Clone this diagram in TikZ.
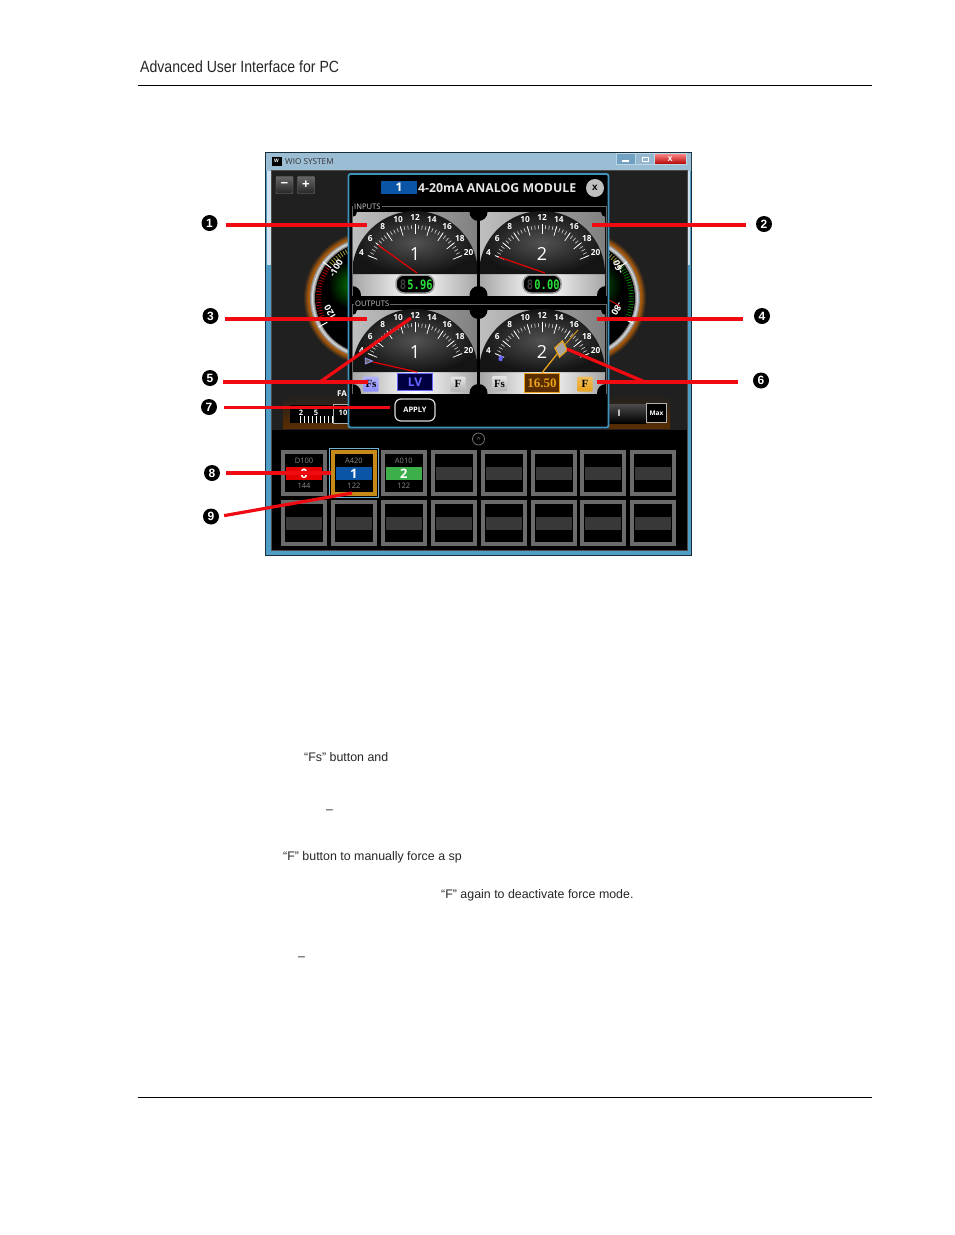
\documentclass[tikz,border=0pt]{standalone}
\usepackage{fontspec}
\usepackage{xcolor}
\setmainfont{Liberation Sans}
\newfontfamily\uifont{Open Sans}
\newfontfamily\monofont{DejaVu Sans Mono}
\newfontfamily\numfont{Liberation Serif}
\usetikzlibrary{positioning, arrows, shapes.geometric, calc}
\definecolor{winblue}{HTML}{4F9CC4}
\definecolor{winpale}{HTML}{CFE2EE}
\definecolor{titleblue}{HTML}{4F88B0}
\definecolor{panelblue}{HTML}{3F93BD}
\definecolor{callred}{HTML}{F00A12}
\definecolor{darkbg}{HTML}{202020}
\definecolor{ledgreen}{HTML}{2BE03A}
\definecolor{forceorange}{HTML}{E8A21C}
\definecolor{modblue}{HTML}{0B55A6}
\definecolor{modgreen}{HTML}{3DAF4A}
\newcommand{\fsz}[1]{\fontsize{#1}{#1}\selectfont}
\tikzset{
    callnum/.style={circle, fill=black, text=white, inner sep=0pt, minimum size=16pt, font=\bfseries\fsz{12}},
    callout/.style={draw=callred, line width=3.2pt, shorten <=#1},
    callout/.default=0pt,
    pagetext/.style={anchor=base west, inner sep=0pt, text=black!85, font=\fsz{12.4}},
    ticklabel/.style={text=white, inner sep=0pt, font=\uifont\bfseries\fsz{8.3}},
    slotbox/.style={draw=black!58, fill=black, line width=4pt, minimum size=42pt, inner sep=0pt},
    slotstrip/.style={fill=black!78, minimum width=36pt, minimum height=13pt, inner sep=0pt, text=white, font=\uifont\bfseries\fsz{13}},
    slottext/.style={text=black!45, inner sep=0pt, font=\uifont\fsz{7.5}},
    btnbox/.style={rounded corners=1pt, minimum width=15pt, minimum height=15pt, inner sep=0pt, text=black, font=\numfont\bfseries\fsz{11}, top color=white!90!black, bottom color=black!30},
    ledpill/.style={draw=black!40, fill=black, line width=1.5pt, rounded corners=8pt, minimum width=38pt, minimum height=18pt, inner sep=0pt},
    sidelabel/.style={text=white, inner sep=0pt, font=\uifont\bfseries\fsz{9}},
    needle/.style={draw=red!90!black, line width=1.2pt},
}
% one dial with its scale, #1 name, #2 and #3 centre, #4 number
\newcommand{\dialgauge}[4]{
    \shade[left color=black!25, right color=black!50] (#2-63,#3-63) rectangle (#2+63,#3);
    \shade[left color=black!35, right color=black!35, middle color=white] (#2-63,#3-1) rectangle (#2+63,#3+20);
    \begin{scope}[shift={(#2,#3)}]
        \shade[inner color=black!68, outer color=black!92] (-63,-1) arc[start angle=180, end angle=0, radius=63pt] -- cycle;
        \foreach \v in {4,4.5,...,20}{
            \pgfmathsetmacro{\a}{157.5-(\v-4)*8.4375}
            \draw[white!85!black, line width=.6pt] (\a:46pt) -- (\a:50pt);
        }
        \foreach \v in {4,6,...,20}{
            \pgfmathsetmacro{\a}{157.5-(\v-4)*8.4375}
            \draw[white, line width=.7pt] (\a:41pt) -- (\a:51pt);
            \node[ticklabel] (#1-l\v) at (\a:58pt) {\v};
        }
        \node[inner sep=0pt, text=white, font=\uifont\fsz{18}] (#1-num) at (0,-21) {#4};
    \end{scope}
}
% one dial behind the panel, #1 and #2 centre
\newcommand{\sidedial}[2]{
    \foreach \r/\m in {67/12,66/22,65/35,64/48,63/58,62/62}{
        \fill[orange!\m!darkbg] (#1,#2) circle[radius=\r pt];
    }
    \foreach \r/\m in {61/55,60/70,59/85,58/70,57/50}{
        \fill[white!\m!black] (#1,#2) circle[radius=\r pt];
    }
    \fill[black] (#1,#2) circle[radius=56pt];
}
\begin{document}
\begin{tikzpicture}[x=1pt,y=-1pt]
\useasboundingbox (0,0) rectangle (954,1235);
\fill[white] (0,0) rectangle (954,1235);

% page text
\node[pagetext, font=\fsz{16.2}, xscale=.87] (head) at (140,72) {Advanced User Interface for PC};
\draw[black, line width=.9pt] (138,85) -- (872,85);
\draw[black, line width=.9pt] (138,1097.5) -- (872,1097.5);
\node[pagetext] (line1) at (304,761) {“Fs” button and};
\node[pagetext] (line2) at (326,813) {–};
\node[pagetext] (line3) at (283,860) {“F” button to manually force a sp};
\node[pagetext] (line4) at (441,898) {“F” again to deactivate force mode.};
\node[pagetext] (line5) at (298,960) {–};

% window
\fill[black!70!winblue] (265,152) rectangle (692,556);
\fill[winblue] (266,153) rectangle (691,555);
\fill[winpale] (267,153) rectangle (270.5,265);
\fill[winpale] (687.5,153) rectangle (690,265);
\shade[left color=winpale!60!titleblue, middle color=titleblue, right color=winpale!60!titleblue] (266,153) rectangle (691,170);
\fill[darkbg] (271,170) rectangle (687,430);
\fill[black] (271,430) rectangle (687,550);
\draw[black!70, line width=.5pt] (271,170) rectangle (687,550);
\node[fill=black, text=white, inner sep=0pt, minimum width=10pt, minimum height=9pt, font=\bfseries\fsz{5}] (wicon) at (276.5,161) {W};
\node[anchor=west, inner sep=0pt, text=black!80, font=\uifont\fsz{8.2}] (wtitle) at (285,161.5) {WIO SYSTEM};
\node[draw=white!60!winblue, fill=titleblue!80!white, minimum width=19pt, minimum height=11pt, inner sep=0pt, anchor=north west] (wmin) at (616,153) {};
\node[draw=white!60!winblue, fill=titleblue!60!white, minimum width=19pt, minimum height=11pt, inner sep=0pt, anchor=north west] (wmax) at (635,153) {};
\node[draw=white!60!winblue, top color=red!45, bottom color=red!70!black, text=white, minimum width=32pt, minimum height=11pt, inner sep=0pt, anchor=north west, font=\bfseries\fsz{9}] (wclose) at (654,153) {x};
\fill[white] (622,160) rectangle (629,161.5);
\draw[white, line width=.7pt] (642,157) rectangle (648,161);
\node[btnbox, draw=black!50, top color=black!60, bottom color=black!85, text=white, minimum width=17pt, minimum height=17pt, font=\bfseries\fsz{13}] (zoomout) at (284.5,185) {−};
\node[btnbox, draw=black!50, top color=black!60, bottom color=black!85, text=white, minimum width=17pt, minimum height=17pt, font=\bfseries\fsz{13}] (zoomin) at (306,185) {+};

% dials behind the panel
\sidedial{371}{298}
\sidedial{579}{298}
\shade[inner color=green!45!black, outer color=black] (352,285) circle[radius=24pt];
\shade[inner color=green!35!black, outer color=black] (598,285) circle[radius=24pt];
\foreach \a in {143,146,...,200}{
    \draw[red!75!black, line width=.7pt] ($(371,298)+(\a:50pt)$) -- ($(371,298)+(\a:55pt)$);
}
\foreach \a in {100,103,...,140}{
    \draw[yellow!65!black, line width=.7pt] ($(371,298)+(\a:50pt)$) -- ($(371,298)+(\a:55pt)$);
}
\foreach \a in {-25,-22,...,35}{
    \draw[green!55!black, line width=.7pt] ($(579,298)+(\a:50pt)$) -- ($(579,298)+(\a:55pt)$);
}
\foreach \a in {38,41,...,80}{
    \draw[yellow!65!black, line width=.7pt] ($(579,298)+(\a:50pt)$) -- ($(579,298)+(\a:55pt)$);
}
\foreach \a in {143,209}{
    \draw[white, line width=1pt] ($(371,298)+(\a:50pt)$) -- ($(371,298)+(\a:60pt)$);
}
\foreach \a in {37,-25}{
    \draw[white, line width=1pt] ($(579,298)+(\a:50pt)$) -- ($(579,298)+(\a:60pt)$);
}
\draw[red!80!black, line width=1pt] (609,300) -- (620,306);
\node[sidelabel, rotate=60] (sideA) at (336,268) {-100};
\node[sidelabel, rotate=120] (sideB) at (331,314) {-120};
\node[sidelabel, rotate=110] (sideC) at (618,267) {-60};
\node[sidelabel, rotate=-120] (sideD) at (617,309) {-80};

% sliders behind the panel
\shade[top color=darkbg, bottom color=orange!35!black] (283,396) rectangle (350,428);
\fill[black] (290,405) rectangle (350,423);
\node[sidelabel, font=\uifont\bfseries\fsz{8}] (fa) at (342,394) {FA};
\foreach \x in {300,304,...,332}{
    \draw[white, line width=.6pt] (\x,416) -- (\x,423);
}
\node[sidelabel, font=\uifont\bfseries\fsz{7.5}] (sl2) at (301,413) {2};
\node[sidelabel, font=\uifont\bfseries\fsz{7.5}] (sl5) at (316,413) {5};
\node[sidelabel, font=\uifont\bfseries\fsz{7.5}] (sl10) at (343,413) {10};
\draw[white!70!black, line width=1pt] (333,404) rectangle (349,423);
\shade[top color=darkbg, bottom color=orange!35!black] (609,396) rectangle (670,428);
\shade[top color=black!70, bottom color=black] (609,404) rectangle (646,423);
\node[sidelabel] (slI) at (619,413) {I};
\node[draw=white!70!black, fill=black, line width=1pt, text=white, minimum width=20pt, minimum height=19pt, inner sep=0pt, font=\uifont\bfseries\fsz{6.5}] (slmax) at (656.5,413) {Max};

% module panel
\fill[black] (349,174) rectangle (608,427);
\draw[panelblue, line width=1.8pt, rounded corners=2pt] (348.5,174) rectangle (608.5,427.5);
\node[fill=modblue, text=white, minimum width=36pt, minimum height=13pt, inner sep=0pt, font=\uifont\bfseries\fsz{12}] (modnum) at (399,187.5) {1};
\node[anchor=west, inner sep=0pt, text=white!90!black, font=\uifont\bfseries\fsz{12.3}] (modtitle) at (418,188) {4-20mA ANALOG MODULE};
\node[circle, fill=black!25, text=black, minimum size=18pt, inner sep=0pt, font=\bfseries\fsz{10}] (modclose) at (595,188) {x};

\dialgauge{ina}{415}{275}{1}
\dialgauge{inb}{542}{275}{2}
\dialgauge{outa}{415}{373}{1}
\dialgauge{outb}{542}{373}{2}

% corner notches of the dials
\begin{scope}
    \clip (350,205) rectangle (607,426);
    \fill[black] (477.2,205) rectangle (479.8,400);
    \foreach \cy in {212,295,310,393}{
        \fill[black] (478.5,\cy) circle[radius=9pt];
    }
    \foreach \cx in {352,606}{
        \foreach \cy in {212,310}{
            \fill[black] (\cx,\cy) circle[radius=5pt];
        }
        \foreach \cy in {295,393}{
            \fill[black] (\cx,\cy) circle[radius=9pt];
        }
    }
\end{scope}
\draw[black!60, line width=.5pt] (352,296) |- (606,206) -- (606,296);
\draw[black!60, line width=.5pt] (352,394) |- (606,304) -- (606,394);
\node[anchor=west, fill=black, text=black!20, inner sep=1pt, font=\uifont\fsz{7.6}] (inlabel) at (353,207) {INPUTS};
\node[anchor=west, fill=black, text=black!20, inner sep=1pt, font=\uifont\fsz{7.6}] (outlabel) at (354,304) {OUTPUTS};

% input needles and displays
\draw[needle] (417,273) -- (378,245);
\draw[needle] (545,273) -- (499,257);
\node[ledpill] (leda) at (415,284) {};
\node[ledpill] (ledb) at (542,284) {};
\node[inner sep=0pt, text=black!75, font=\monofont\bfseries\fsz{13}, xscale=.8] (dima) at (403,284.5) {8};
\node[inner sep=0pt, text=black!75, font=\monofont\bfseries\fsz{13}, xscale=.8] (dimb) at (530,284.5) {8};
\node[inner sep=0pt, text=ledgreen, font=\monofont\bfseries\fsz{13}, xscale=.8] (leda-txt) at (420,284.5) {5.96};
\node[inner sep=0pt, text=ledgreen, font=\monofont\bfseries\fsz{13}, xscale=.8] (ledb-txt) at (547,284.5) {0.00};

% output needles and buttons
\draw[needle] (417,372) -- (373,362);
\node[isosceles triangle, draw=blue!40!white, fill=black!60, line width=.8pt, minimum size=6pt, inner sep=1pt] (outa-mark) at (367,361) {};
\node[draw=blue!60!white, fill=blue!25!black, line width=1.4pt, text=blue!60!white, minimum width=35pt, minimum height=17pt, inner sep=0pt, font=\uifont\bfseries\fsz{12}] (lvbox) at (415,382) {LV};
\node[btnbox, top color=blue!30, bottom color=blue!45] (fsa) at (371,384) {Fs};
\node[btnbox] (fa-btn) at (458,384) {F};
\node[btnbox] (fsb) at (499.5,383.5) {Fs};
\node[btnbox, top color=forceorange!70, bottom color=forceorange] (fb-btn) at (585,384) {F};
\node[draw=forceorange, fill=orange!35!black, line width=1.3pt, text=forceorange, minimum width=35pt, minimum height=19pt, inner sep=0pt, font=\numfont\bfseries\fsz{13}] (forcebox) at (542,383) {16.50};
\node[diamond, draw=forceorange, fill=black!35, line width=1.2pt, minimum width=13pt, minimum height=17pt, inner sep=0pt, rotate=-10] (forcemark) at (561,349) {};
\draw[forceorange, line width=1.3pt] (forcebox.north) -- (forcemark);
\draw[forceorange, line width=.8pt] (forcemark) -- (578,330);
\fill[blue!60!white] (499,355.5) -- (503,356.5) -- (502,361) -- (498.5,360.5) -- cycle;
\node[draw=white!85!black, fill=black, line width=1.2pt, rounded corners=6pt, text=white, minimum width=40pt, minimum height=22pt, inner sep=0pt, font=\uifont\bfseries\fsz{7.5}] (apply) at (415,410) {APPLY};

% module slots
\node[circle, draw=black!55, line width=.8pt, text=black!55, minimum size=12pt, inner sep=0pt, font=\bfseries\fsz{6}] (slotup) at (478.5,439) {\^{}};
\foreach \i in {0,...,7}{
    \pgfmathsetmacro{\sx}{304+49.9*\i}
    \node[slotbox] (sa\i) at (\sx,473) {};
    \node[slotstrip] (ta\i) at (\sx,473.5) {};
    \node[slotbox] (sb\i) at (\sx,523) {};
    \node[slotstrip] (tb\i) at (\sx,523.5) {};
}
\draw[winblue!80!white, line width=1.5pt] (329.6,448.6) rectangle (378.4,497.4);
\node[slotbox, draw=forceorange!85!black] (selbox) at (353.9,473) {};
\node[slotstrip, fill=red!90!black] (stripd) at (304,473.5) {0};
\node[slotstrip, fill=modblue] (stripa) at (353.9,473.5) {1};
\node[slotstrip, fill=modgreen] (stripb) at (403.8,473.5) {2};
\node[slottext] (named) at (304,460.5) {D100};
\node[slottext] (namea) at (353.9,460.5) {A420};
\node[slottext] (nameb) at (403.8,460.5) {A010};
\node[slottext] (addrd) at (304,486) {144};
\node[slottext] (addra) at (353.9,486) {122};
\node[slottext] (addrb) at (403.8,486) {122};

% callouts
\node[callnum] (n1) at (209.5,223) {1};
\node[callnum] (n2) at (764,224) {2};
\node[callnum] (n3) at (210.5,316) {3};
\node[callnum] (n4) at (762,316) {4};
\node[callnum] (n5) at (210,378) {5};
\node[callnum] (n6) at (761,380.5) {6};
\node[callnum] (n7) at (209,407) {7};
\node[callnum] (n8) at (212,473) {8};
\node[callnum] (n9) at (211,516.5) {9};
\coordinate (t1) at (367,225);
\coordinate (t2) at (592,225);
\coordinate (t3) at (367,319);
\coordinate (t4) at (597,319);
\coordinate (t5) at (368,382);
\coordinate (j5) at (320,382);
\coordinate (u5) at (411,318);
\coordinate (t6) at (597,382);
\coordinate (j6) at (645,382);
\coordinate (u6) at (567,349);
\coordinate (t7) at (390,407.5);
\coordinate (t8) at (331,473);
\coordinate (t9) at (352,493);
\draw[callout=8pt] (n1.east |- t1) -- (t1);
\draw[callout=10pt] (n2.west |- t2) -- (t2);
\draw[callout=6pt] (n3.east |- t3) -- (t3);
\draw[callout=11pt] (n4.west |- t4) -- (t4);
\draw[callout=5pt] (n5.east |- t5) -- (t5);
\draw[callout] (j5) -- (u5);
\draw[callout=15pt] (n6.west |- t6) -- (t6);
\draw[callout] (j6) -- (u6);
\draw[callout=7pt] (n7.east |- t7) -- (t7);
\draw[callout=6pt] (n8.east) -- (t8);
\draw[callout=5pt] (n9.east) -- (t9);
\end{tikzpicture}
\end{document}
